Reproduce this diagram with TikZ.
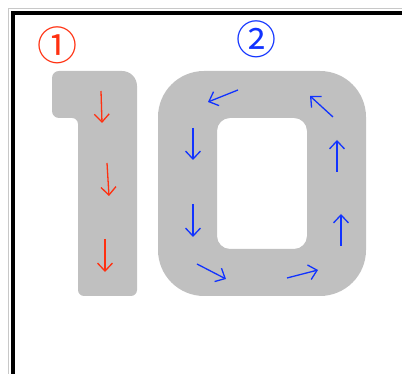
\documentclass[tikz,border=0pt]{standalone}
\usepackage{fontspec}
\newfontfamily\cjk{Noto Sans CJK JP}
\usetikzlibrary{arrows.meta}
\definecolor{glyphgray}{RGB}{192,192,192}
\definecolor{framegray}{RGB}{200,200,200}
\definecolor{arrred}{RGB}{255,48,16}
\definecolor{arrblue}{RGB}{17,51,255}
\tikzset{
  glyph/.style={fill=glyphgray},
  redarrow/.style={draw=arrred, line width=1.3pt, -{Straight Barb[length=8pt,width=15pt]}},
  bluearrow/.style={draw=arrblue, line width=1.3pt, -{Straight Barb[length=8pt,width=15pt]}},
  label/.style={inner sep=0pt, font=\cjk\fontsize{40}{40}\selectfont}
}
\begin{document}
\begin{tikzpicture}[x=1pt,y=1pt]
\useasboundingbox (0,0) rectangle (402,374);
% frame
\draw[framegray, line width=0.8pt] (8.5,0) -- (8.5,365.5) -- (402,365.5);
\draw[black, line width=4pt] (13,0) -- (13,361) -- (402,361);
% digit 1
\fill[glyph] (52,263) -- (52,296) arc[start angle=180,end angle=90,radius=7]
  -- (122,303) arc[start angle=90,end angle=0,radius=15]
  -- (137,84) arc[start angle=0,end angle=-90,radius=6]
  -- (84,78) arc[start angle=-90,end angle=-180,radius=6]
  -- (78,250) arc[start angle=0,end angle=90,radius=6]
  -- (59,256) arc[start angle=-90,end angle=-180,radius=7] -- cycle;
% digit 0
\fill[glyph, even odd rule] [rounded corners=46pt] (158,78) rectangle (366,303)
  [rounded corners=13pt] (217,125) rectangle (307,256);
% labels
\node[label, text=arrred] (one) at (57,328.5) {①};
\node[label, text=arrblue] (two) at (256,334.5) {②};
% red arrows
\coordinate (r1s) at (101,283); \coordinate (r1e) at (102,251);
\coordinate (r2s) at (107,211); \coordinate (r2e) at (109,178);
\coordinate (r3s) at (105,135); \coordinate (r3e) at (105,102);
\draw[redarrow] (r1s) -- (r1e);
\draw[redarrow] (r2s) -- (r2e);
\draw[redarrow] (r3s) -- (r3e);
% blue arrows
\coordinate (bas) at (238,284); \coordinate (bae) at (208,272);
\coordinate (bbs) at (333,257); \coordinate (bbe) at (310,278);
\coordinate (bcs) at (193,246); \coordinate (bce) at (193,214);
\coordinate (bds) at (337,202); \coordinate (bde) at (337,234);
\coordinate (bes) at (193,170); \coordinate (bee) at (193,137);
\coordinate (bfs) at (341,128); \coordinate (bfe) at (341,160);
\coordinate (bgs) at (197,110); \coordinate (bge) at (226,95);
\coordinate (bhs) at (287,96); \coordinate (bhe) at (318,104);
\draw[bluearrow] (bas) -- (bae);
\draw[bluearrow] (bbs) -- (bbe);
\draw[bluearrow] (bcs) -- (bce);
\draw[bluearrow] (bds) -- (bde);
\draw[bluearrow] (bes) -- (bee);
\draw[bluearrow] (bfs) -- (bfe);
\draw[bluearrow] (bgs) -- (bge);
\draw[bluearrow] (bhs) -- (bhe);
\end{tikzpicture}
\end{document}
